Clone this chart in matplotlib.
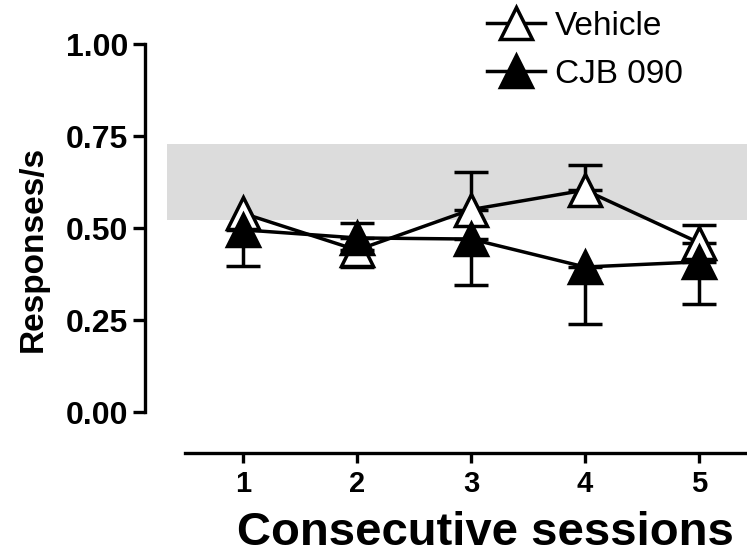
import numpy as np
import matplotlib
matplotlib.use('Agg')
import matplotlib.pyplot as plt
from matplotlib.lines import Line2D

# data
sessions = [1, 2, 3, 4, 5]
vehicle = [0.54, 0.44, 0.55, 0.603, 0.46]
vehicle_lo = [0.0, 0.046, 0.0, 0.0, 0.0]
vehicle_hi = [0.0, 0.0, 0.102, 0.067, 0.048]
cjb = [0.495, 0.473, 0.47, 0.394, 0.408]
cjb_lo = [0.098, 0.0, 0.125, 0.155, 0.115]
cjb_hi = [0.0, 0.041, 0.0, 0.0, 0.0]
band = (0.522, 0.728)  # baseline range (shaded)

plt.rcParams['font.family'] = ['Liberation Sans', 'DejaVu Sans']

fig = plt.figure(figsize=(7.47, 5.58), dpi=100)
ax = fig.add_axes([145 / 747, 105 / 558, 602 / 747, 409 / 558])

ax.axhspan(band[0], band[1], xmin=22 / 602, xmax=1, color='#dcdcdc', lw=0, zorder=0)

lw = 2.5
ms = 23
cap = 12.5


def draw_err(x, y, lo, hi, z):
    x = np.array(x); y = np.array(y); lo = np.array(lo); hi = np.array(hi)
    for arr, sign in ((lo, 0), (hi, 1)):
        m = arr > 0
        if not m.any():
            continue
        err = np.zeros((2, m.sum()))
        err[sign] = arr[m]
        ax.errorbar(x[m], y[m], yerr=err, fmt='none', ecolor='black',
                    elinewidth=lw, capsize=cap, capthick=lw, zorder=z)


draw_err(sessions, vehicle, vehicle_lo, vehicle_hi, 2)
ax.plot(sessions, vehicle, color='black', lw=lw, marker='^', ms=ms,
        mfc='white', mec='black', mew=lw, zorder=3)
draw_err(sessions, cjb, cjb_lo, cjb_hi, 4)
ax.plot(sessions, cjb, color='black', lw=lw, marker='^', ms=ms,
        mfc='black', mec='black', mew=lw, zorder=5)

ax.set_xlim(0.1404, 5.421)
ax.set_ylim(-0.1114, 1.0)

for s in ['top', 'right']:
    ax.spines[s].set_visible(False)
ax.spines['left'].set_bounds(0, 1)
ax.spines['bottom'].set_bounds(0.49, 5.421)
for s in ['left', 'bottom']:
    ax.spines[s].set_linewidth(2.4)
    ax.spines[s].set_clip_on(False)

ax.set_yticks([0, 0.25, 0.5, 0.75, 1.0])
ax.set_yticklabels(['0.00', '0.25', '0.50', '0.75', '1.00'])
ax.set_xticks(sessions)
ax.tick_params(axis='y', length=9, width=2.4, labelsize=23, pad=3)
ax.tick_params(axis='x', length=7, width=2.4, labelsize=21, pad=5)
for lab in ax.get_xticklabels() + ax.get_yticklabels():
    lab.set_fontweight('bold')

ax.set_ylabel('Responses/s', fontsize=24, fontweight='bold', labelpad=12)
ax.set_xlabel('Consecutive sessions', fontsize=34, fontweight='bold')
ax.xaxis.set_label_coords((485 - 145) / 602, -0.142)

handles = [
    Line2D([], [], color='black', lw=lw, marker='^', ms=ms, mfc='white', mec='black', mew=lw),
    Line2D([], [], color='black', lw=lw, marker='^', ms=ms, mfc='black', mec='black', mew=lw),
]
fig.legend(handles, ['Vehicle', 'CJB 090'], loc='upper left',
           bbox_to_anchor=(487 / 747, 1 - 11 / 558), frameon=False,
           fontsize=24, handlelength=1.75, handletextpad=0.3,
           labelspacing=0.5, borderpad=0, borderaxespad=0)

fig.savefig('out.png', dpi=100)
